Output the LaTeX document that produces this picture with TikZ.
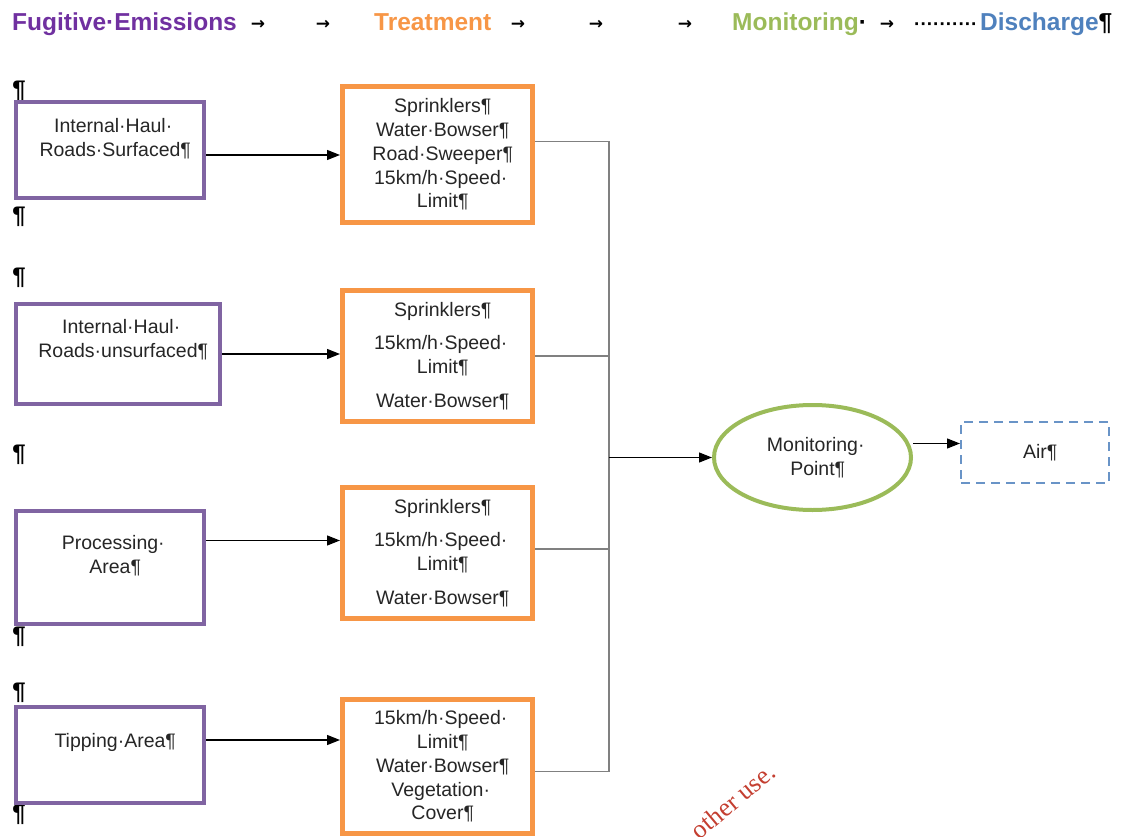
\documentclass[tikz,border=0pt]{standalone}
\usepackage{fontspec}
\setmainfont{Liberation Sans}
\newfontfamily\arrowfont{DejaVu Sans}
\newfontfamily\stampfont{Liberation Serif}
\definecolor{emipurple}{RGB}{112,48,160}
\definecolor{boxpurple}{RGB}{128,100,162}
\definecolor{treatorange}{RGB}{247,150,70}
\definecolor{mongreen}{RGB}{155,187,89}
\definecolor{disblue}{RGB}{79,129,189}
\definecolor{stampred}{RGB}{196,62,48}
\usetikzlibrary{arrows.meta, positioning, shapes.geometric}
% trailing marks that do not count for centring
\newcommand{\trailp}{\rlap{¶}}
\newcommand{\trails}{\rlap{·}}

\begin{document}
\begin{tikzpicture}[
  x=1pt, y=1pt,
  src/.style={rectangle, draw=boxpurple, line width=4pt, fill=white, inner sep=0pt,
              minimum width=188pt, minimum height=96pt},
  srctext/.style={inner sep=0pt, align=center, text=black!85,
                  font=\fontsize{19.5}{23.75}\selectfont},
  treat/.style={rectangle, draw=treatorange, line width=5pt, fill=white, inner sep=0pt,
                minimum width=190pt, minimum height=131pt, align=center, text=black!85,
                font=\fontsize{19.5}{23.75}\selectfont},
  mon/.style={ellipse, draw=mongreen, line width=4pt, fill=white, inner sep=0pt,
              minimum width=197pt, minimum height=105pt, align=center, text=black!85,
              font=\fontsize{19.5}{23.75}\selectfont},
  dis/.style={rectangle, draw=disblue!85, line width=2pt, dash pattern=on 9pt off 6pt,
              inner sep=0pt, minimum width=148pt, minimum height=61pt, text=black!85,
              font=\fontsize{19.5}{23.75}\selectfont},
  head/.style={inner sep=0pt, anchor=base west, font=\fontsize{24.5}{29}\selectfont\bfseries},
  tabmark/.style={inner sep=0pt, anchor=base, font=\arrowfont\fontsize{17}{20}\selectfont\bfseries},
  pilcrow/.style={inner sep=0pt, font=\fontsize{24}{28}\selectfont\bfseries},
  arrow/.style={-{Triangle[length=13pt, width=10pt]}, line width=1.3pt},
  link/.style={line width=1.3pt, black!50}
]
\useasboundingbox (0,0) rectangle (1121,-837);

% heading line
\node[head, text=emipurple] (hfug) at (12,-31) {Fugitive·Emissions};
\node[head, text=treatorange] (htreat) at (374,-31) {Treatment};
\node[head, text=mongreen] (hmon) at (732,-31) {Monitoring\textcolor{black}{·}};
\node[head, font=\fontsize{19}{24}\selectfont\bfseries] (hdots) at (914,-31) {··········};
\node[head, text=disblue] (hdis) at (980,-31) {Discharge\textcolor{black}{¶}};
\foreach \x [count=\i] in {258,323,518,596,685,887}
  \node[tabmark] (tab\i) at (\x,-30) {→};

% paragraph marks in the margin
\foreach \y [count=\i] in {91,217,278,455,637,693,815}
  \node[pilcrow] (pm\i) at (19,-\y) {¶};

% sources
\node[src] (s1) at (110,-150) {};
\node[src, minimum width=204pt, minimum height=100pt, below=102pt of s1.south west, anchor=north west] (s2) {};
\node[src, minimum height=113pt, below=103pt of s2.south west, anchor=north west] (s3) {};
\node[src, below=79pt of s3.south west, anchor=north west] (s4) {};
\node[srctext, below=18pt of s1.north] (s1t) {Internal·Haul\trails\\Roads·Surfaced\trailp};
\node[srctext, below=17pt of s2.north] (s2t) {Internal·Haul\trails\\Roads·unsurfaced\trailp};
\node[srctext, below=26pt of s3.north] (s3t) {Processing\trails\\Area\trailp};
\node[srctext, below=28pt of s4.north] (s4t) {Tipping·Area\trailp};

% treatment
\node[treat, minimum height=136pt] (t1) at (437.5,-154.5) {Sprinklers\trailp\\Water·Bowser\trailp\\Road·Sweeper\trailp\\15km/h·Speed\trails\\Limit\trailp};
\node[treat, below=63pt of t1] (t2) {Sprinklers\trailp\\[10pt]15km/h·Speed\trails\\Limit\trailp\\[10pt]Water·Bowser\trailp};
\node[treat, below=61pt of t2] (t3) {Sprinklers\trailp\\[10pt]15km/h·Speed\trails\\Limit\trailp\\[10pt]Water·Bowser\trailp};
\node[treat, minimum height=134pt, below=76pt of t3] (t4) {15km/h·Speed\trails\\Limit\trailp\\Water·Bowser\trailp\\Vegetation\trails\\Cover\trailp};

% monitoring and discharge
\node[mon] (mp) at (812.5,-457.5) {Monitoring\trails\\Point\trailp};
\node[dis] (air) at (1035,-452.5) {Air\trailp};

\node[font=\stampfont\fontsize{26}{30}\selectfont, text=stampred, rotate=40] (stamp) at (733,-801) {other use.};

% connectors
\coordinate (bus) at (609,-455);
\coordinate (a1) at ([yshift=-5pt]s1.east);
\coordinate (a3) at ([yshift=27pt]s3.east);
\coordinate (a4) at ([yshift=15pt]s4.east);
\draw[arrow] (a1) -- (a1 -| t1.west);
\draw[arrow] (s2.east) -- (s2.east -| t2.west);
\draw[arrow] (a3) -- (a3 -| t3.west);
\draw[arrow] (a4) -- (a4 -| t4.west);

\coordinate (b1) at ([yshift=13pt]t1.east);
\coordinate (b3) at ([yshift=4pt]t3.east);
\coordinate (b4) at ([yshift=-5pt]t4.east);
\draw[link] (b1) -- (b1 -| bus) -- (b4 -| bus) -- (b4);
\draw[link] (t2.east) -- (t2.east -| bus);
\draw[link] (b3) -- (b3 -| bus);
\draw[arrow] (bus |- mp.west) -- (mp.west);
\coordinate (m1) at ([yshift=14pt]mp.east);
\draw[arrow] (m1) -- (m1 -| air.west);
\end{tikzpicture}
\end{document}
